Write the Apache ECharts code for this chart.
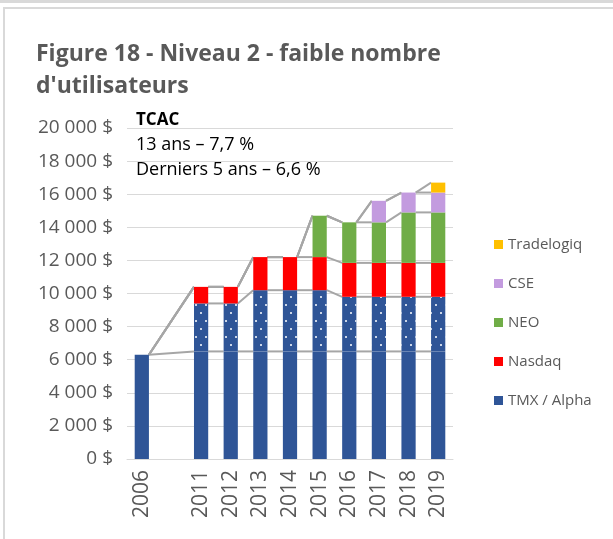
<!DOCTYPE html>
<html>
<head>
<meta charset="utf-8">
<script src="https://cdn.jsdelivr.net/npm/echarts@6/dist/echarts.min.js"></script>
<style>
  html, body { margin: 0; padding: 0; background: #fff; }
  #topband { position: absolute; left: 0; top: 0; width: 613px; height: 3px; background: #d9d9d9; }
  #frame { position: absolute; left: 3px; top: 7px; width: 700px; height: 540px; border: 2px solid #d9d9d9; }
  #myChart { position: absolute; left: 0; top: 0; width: 613px; height: 539px; }
</style>
</head>
<body>
<div id="topband"></div>
<div id="frame"></div>
<div id="myChart"></div>
<script>
// catégories (la colonne vide sépare 2006 de 2011)
var categories = ['2006', '', '2011', '2012', '2013', '2014', '2015', '2016', '2017', '2018', '2019']
// valeurs empilées, en $
var tmx = [6300, null, 6500, 6500, 6500, 6500, 6500, 6500, 6500, 6500, 6500]
var alpha = [null, null, 2900, 2900, 3700, 3700, 3700, 3300, 3300, 3300, 3300]
var nasdaq = [0, null, 1000, 1000, 2000, 2000, 2000, 2050, 2050, 2050, 2050]
var neo = [0, null, 0, 0, 0, 0, 2500, 2450, 2450, 3050, 3050]
var cse = [0, null, 0, 0, 0, 0, 0, 0, 1300, 1200, 1200]
var tradelogiq = [0, null, 0, 0, 0, 0, 0, 0, 0, 0, 600]
var legendNames = ['Tradelogiq', 'CSE', 'NEO', 'Nasdaq', 'TMX / Alpha']
var yTicks = [0, 2000, 4000, 6000, 8000, 10000, 12000, 14000, 16000, 18000, 20000]

var grey = '#595959'
var font = 'Open Sans'

// lignes de série (comme Excel) : relient le haut de chaque segment d'une barre à la suivante
var stackSeries = [tmx, alpha, nasdaq, neo, cse, tradelogiq]
var bars = []
categories.forEach(function (c, i) { if (tmx[i] !== null) bars.push(i) })
var seriesLines = []
for (var b = 0; b < bars.length - 1; b++) {
  var i = bars[b], j = bars[b + 1]
  var si = 0, sj = 0
  stackSeries.forEach(function (s) {
    si += s[i] || 0
    sj += s[j] || 0
    if (s[i] !== null && s[j] !== null) seriesLines.push([i, j, si, sj])
  })
}

function barSeries (name, data, color, extra) {
  var s = {
    name: name,
    type: 'bar',
    stack: 'total',
    barWidth: '48%',
    z: 3,
    itemStyle: { color: color },
    emphasis: { disabled: true },
    data: data
  }
  if (extra) s.itemStyle.decal = extra
  return s
}

var myChart = echarts.init(document.getElementById('myChart'))
myChart.setOption({
  animation: false,
  backgroundColor: 'transparent',
  title: {
    text: "Figure 18 - Niveau 2 - faible nombre\nd'utilisateurs",
    left: 31,
    top: 33,
    textStyle: { fontFamily: font, fontSize: 23, fontWeight: 'bold', color: grey, lineHeight: 32 }
  },
  legend: {
    orient: 'vertical',
    left: 489,
    top: 232,
    itemWidth: 9,
    itemHeight: 9,
    itemGap: 24,
    icon: 'rect',
    data: legendNames,
    textStyle: { fontFamily: font, fontSize: 15, color: grey, padding: [0, 0, 0, 0] }
  },
  grid: { left: 127, right: 160, top: 128, bottom: 80, containLabel: false },
  xAxis: {
    type: 'category',
    data: categories,
    axisLine: { lineStyle: { color: '#d9d9d9', width: 1 } },
    axisTick: { show: false },
    axisLabel: { rotate: 90, interval: 0, margin: 11, fontFamily: font, fontSize: 21, color: grey }
  },
  yAxis: {
    type: 'value',
    min: 0,
    max: 20000,
    interval: 2000,
    axisLine: { show: false },
    axisTick: { show: false },
    splitLine: { lineStyle: { color: '#d9d9d9', width: 1 } },
    axisLabel: {
      margin: 14,
      fontFamily: font,
      fontSize: 19,
      color: grey,
      formatter: function (v) {
        if (yTicks.indexOf(v) < 0) return ''
        var t = v >= 1000 ? Math.floor(v / 1000) + ' 000' : String(v)
        return t + ' $'
      }
    }
  },
  graphic: [
    { type: 'text', left: 136, top: 112, style: { text: 'TCAC', fill: '#000', font: 'bold 17px "Open Sans"' } },
    { type: 'text', left: 136, top: 136, style: { text: '13 ans – 7,7 %', fill: '#000', font: '18px "Open Sans"' } },
    { type: 'text', left: 136, top: 161, style: { text: 'Derniers 5 ans – 6,6 %', fill: '#000', font: '18px "Open Sans"' } }
  ],
  series: [
    barSeries('TMX / Alpha', tmx, '#2F5597'),
    barSeries('Alpha', alpha, '#2F5597', {
      symbol: 'circle',
      symbolSize: 1,
      color: '#ffffff',
      dashArrayX: [[2, 8], [0, 5, 2, 3]],
      dashArrayY: [2, 6]
    }),
    barSeries('Nasdaq', nasdaq, '#FF0000'),
    barSeries('NEO', neo, '#70AD47'),
    barSeries('CSE', cse, '#C39BDF'),
    barSeries('Tradelogiq', tradelogiq, '#FFC000'),
    {
      name: 'lignes',
      type: 'custom',
      z: 2,
      silent: true,
      encode: { x: [0, 1], y: [2, 3] },
      data: seriesLines,
      renderItem: function (params, api) {
        var half = api.size([1, 0])[0] * 0.24
        var p1 = api.coord([api.value(0), api.value(2)])
        var p2 = api.coord([api.value(1), api.value(3)])
        return {
          type: 'line',
          shape: { x1: p1[0] + half, y1: p1[1], x2: p2[0] - half, y2: p2[1] },
          style: { stroke: '#a6a6a6', lineWidth: 2 }
        }
      }
    }
  ]
})
</script>
</body>
</html>
